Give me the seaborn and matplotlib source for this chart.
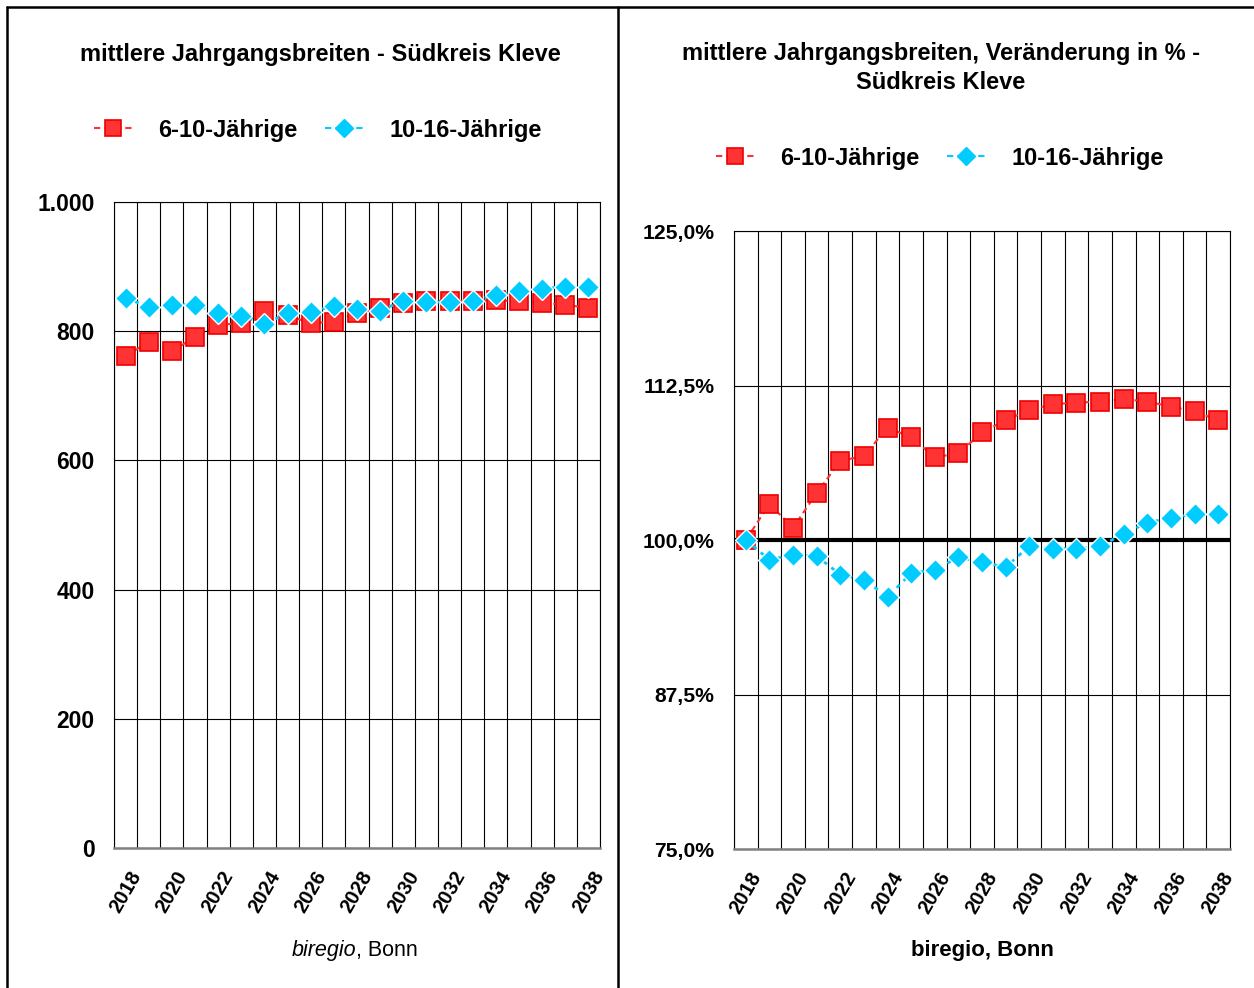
import matplotlib
matplotlib.use('Agg')
import matplotlib.pyplot as plt
import seaborn as sns
import numpy as np
from matplotlib.lines import Line2D
from matplotlib.ticker import FixedLocator, FuncFormatter
from matplotlib.font_manager import FontProperties

# data
years = list(range(2018, 2039))
kids_6_10 = [762, 783, 769, 791, 810, 812, 831, 825, 812, 815, 828,
             836, 843, 847, 847, 847, 848, 846, 844, 841, 836]
kids_10_16 = [851, 838, 841, 841, 828, 824, 811, 828, 830, 839, 835,
              832, 847, 845, 845, 847, 856, 862, 866, 869, 869]
pct_6_10 = [100.0, 102.9, 101.0, 103.8, 106.4, 106.8, 109.1, 108.3, 106.7, 107.0, 108.7,
            109.7, 110.5, 111.0, 111.1, 111.2, 111.4, 111.2, 110.8, 110.4, 109.7]
pct_10_16 = [100.0, 98.4, 98.8, 98.7, 97.2, 96.8, 95.4, 97.3, 97.6, 98.6, 98.2,
             97.8, 99.5, 99.3, 99.3, 99.5, 100.5, 101.4, 101.8, 102.1, 102.1]
series_names = ['6-10-Jährige', '10-16-Jährige']
left_title = 'mittlere Jahrgangsbreiten - Südkreis Kleve'
right_title = 'mittlere Jahrgangsbreiten, Veränderung in % -\nSüdkreis Kleve'
left_yticks = [0, 200, 400, 600, 800, 1000]
right_yticks = [75, 87.5, 100, 112.5, 125]

RED = '#ff3333'
RED_EDGE = '#f00000'
BLUE = '#00ccff'

sns.set_style('white')
plt.rcParams['font.family'] = ['Liberation Sans', 'DejaVu Sans']
plt.rcParams['text.color'] = 'black'
plt.rcParams['xtick.color'] = 'black'
plt.rcParams['ytick.color'] = 'black'
plt.rcParams['axes.labelcolor'] = 'black'

W, H = 1254, 988
fig = plt.figure(figsize=(W / 100, H / 100), dpi=100)

FAM = ['Liberation Sans', 'DejaVu Sans']
bold = FontProperties(family=FAM, weight='bold', size=17)
left_tick = FontProperties(family=FAM, weight='bold', size=16.5)
right_tick = FontProperties(family=FAM, weight='bold', size=15.2)
year_tick = FontProperties(family=FAM, weight='bold', size=14.5)


def fig_box(x0, y0, x1, y1):
    # pixel box (top-left origin) -> figure fraction rect
    return [x0 / W, 1 - y1 / H, (x1 - x0) / W, (y1 - y0) / H]


def style_axes(ax, yticks, fmt, ylabel_font):
    ax.set_xlim(2017.5, 2038.5)
    ax.set_ylim(yticks[0], yticks[-1])
    ax.xaxis.set_minor_locator(FixedLocator(np.arange(2017.5, 2039, 1)))
    ax.set_xticks(years[::2])
    ax.set_xticklabels([str(y) for y in years[::2]], rotation=60, ha='center', va='top',
                       fontproperties=year_tick)
    ax.set_yticks(yticks)
    ax.yaxis.set_major_formatter(FuncFormatter(fmt))
    for lab in ax.get_yticklabels():
        lab.set_fontproperties(ylabel_font)
    ax.set_axisbelow(True)
    ax.grid(which='minor', axis='x', color='black', lw=0.8)
    ax.grid(which='major', axis='x', visible=False)
    ax.grid(which='major', axis='y', color='black', lw=0.8)
    ax.tick_params(which='both', length=0, colors='black')
    ax.tick_params(axis='x', pad=14)
    ax.tick_params(axis='y', pad=14)
    for side in ['top', 'right', 'left']:
        ax.spines[side].set_color('black')
        ax.spines[side].set_linewidth(0.8)
    ax.spines['bottom'].set_color('#808080')
    ax.spines['bottom'].set_linewidth(1.8)
    ax.set_xlabel('')
    ax.set_ylabel('')


def draw_series(ax, red_vals, blue_vals):
    sns.lineplot(x=years, y=red_vals, ax=ax, color=RED, linestyle=(0, (3, 2)), lw=1.5,
                 marker='s', markersize=12.5, markerfacecolor=RED, markeredgecolor=RED_EDGE,
                 markeredgewidth=1.2, zorder=3)
    sns.lineplot(x=years, y=blue_vals, ax=ax, color=BLUE, linestyle=(0, (1.5, 2)), lw=2,
                 marker='D', markersize=11, markerfacecolor=BLUE, markeredgecolor='white',
                 markeredgewidth=1.0, zorder=4)


def add_legend(cx, cy):
    handles = [
        Line2D([], [], color=RED, ls=(0, (3, 2)), lw=1.5, marker='s', ms=12,
               mfc=RED, mec=RED_EDGE, mew=1.2),
        Line2D([], [], color=BLUE, ls=(0, (3, 2)), lw=1.5, marker='D', ms=9.5,
               mfc=BLUE, mec=BLUE),
    ]
    fig.legend(handles, series_names, loc='center', bbox_to_anchor=(cx / W, 1 - cy / H),
               ncol=2, frameon=False, prop=bold, handlelength=1.65, handletextpad=1.1,
               columnspacing=1.15, borderpad=0)


# left chart: absolute values
ax1 = fig.add_axes(fig_box(114, 202, 600, 848))
draw_series(ax1, kids_6_10, kids_10_16)
style_axes(ax1, left_yticks, lambda v, p: f'{v:,.0f}'.replace(',', '.'), left_tick)

# right chart: change in %
ax2 = fig.add_axes(fig_box(734, 231, 1230, 849))
ax2.axhline(100, color='black', lw=3, zorder=2.5)
draw_series(ax2, pct_6_10, pct_10_16)
style_axes(ax2, right_yticks, lambda v, p: f'{v:.1f}%'.replace('.', ','), right_tick)

# titles
fig.text(320 / W, 1 - 54 / H, left_title, ha='center', va='center', fontproperties=bold)
fig.text(941 / W, 1 - 68 / H, right_title, ha='center', va='center', fontproperties=bold,
         linespacing=1.3)

add_legend(318, 130)
add_legend(940, 158)

# source notes
src_font = dict(family=FAM, size=15.5)
fig.text(356 / W, 1 - 950 / H, 'biregio', ha='right', va='center', style='italic', **src_font)
fig.text(356 / W, 1 - 950 / H, ', Bonn', ha='left', va='center', **src_font)
fig.text(982 / W, 1 - 950 / H, 'biregio, Bonn', ha='center', va='center',
         fontproperties=FontProperties(family=FAM, weight='bold', size=16))

# panel frames
frame_kw = dict(transform=fig.transFigure, color='black', lw=1.8)
fig.add_artist(Line2D([7 / W, 7 / W], [0, 1 - 7 / H], **frame_kw))
fig.add_artist(Line2D([7 / W, 1], [1 - 7 / H, 1 - 7 / H], **frame_kw))
fig.add_artist(Line2D([618 / W, 618 / W], [0, 1 - 7 / H], **frame_kw))

fig.savefig('out.png', dpi=100, facecolor='white')
